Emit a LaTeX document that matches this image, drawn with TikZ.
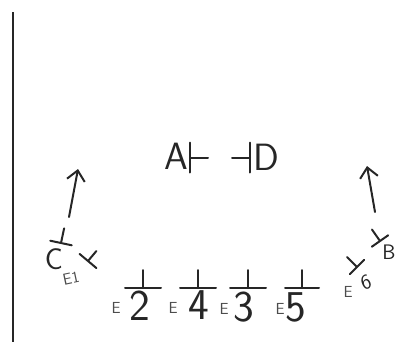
\documentclass[tikz,border=0pt]{standalone}
\usepackage{tikz}
\usetikzlibrary{arrows.meta}

\begin{document}
\begin{tikzpicture}[
    x=1pt, y=-1pt,
    font=\sffamily,
    ink/.style={draw=black!85, line width=2pt, line cap=round, line join=round},
    pics/tee/.style args={#1/#2}{code={
        \draw[ink] (-#1,0) -- (#1,0) (0,0) -- (0,-#2);
    }},
    bigLabel/.style={inner sep=0pt, text=black!85, font=\sffamily\fontsize{38}{38}\selectfont},
    digitLabel/.style={inner sep=0pt, text=black!85, font=\sffamily\fontsize{44}{44}\selectfont},
    midLabel/.style={inner sep=0pt, text=black!85, font=\sffamily\fontsize{30}{30}\selectfont},
    smallLabel/.style={inner sep=0pt, text=black!85, font=\sffamily\fontsize{21}{21}\selectfont},
    tinyLabel/.style={inner sep=0pt, text=black!70, font=\sffamily\fontsize{16}{16}\selectfont},
    upArrow/.style={ink, -{Straight Barb[length=10pt, width=18pt, line width=2pt]}}
]
\useasboundingbox (0,0) rectangle (415,349);

% margin line
\draw[line width=1.5pt, draw=black!85] (13,12) -- (13,342);

% top pair
\node[bigLabel] (lblA) at (176,156) {A};
\pic[rotate=-90] at (190,157.5) {tee=15/18};
\pic[rotate=90] at (250,157.5) {tee=15/18};
\node[bigLabel] (lblD) at (266,157) {D};

% left group
\coordinate (leftTail) at (69,217);
\coordinate (leftHead) at (78,169);
\draw[upArrow] (leftTail) -- (leftHead);
\pic[rotate=-12] at (61,243) {tee=11/15};
\node[midLabel] (lblC) at (54,259) {C};
\pic[rotate=-40] at (88,261) {tee=11/13};
\node[tinyLabel, rotate=12] (lblE1) at (71,278) {E1};

% right group
\coordinate (rightTail) at (375,212);
\coordinate (rightHead) at (367,166);
\draw[upArrow] (rightTail) -- (rightHead);
\pic[rotate=35] at (380,241) {tee=10/14};
\node[smallLabel] (lblB) at (389,252) {B};
\pic[rotate=45] at (357,267) {tee=10/14};
\node[smallLabel, rotate=20] (lbl6) at (366,282) {6};
\node[tinyLabel] (lblE6) at (348,292) {E};

% bottom row
\pic at (143,288) {tee=18/18};
\node[tinyLabel] (lblE2e) at (116,308) {E};
\node[digitLabel] (lblE2) at (140,306) {2};
\pic at (198,288) {tee=18/18};
\node[tinyLabel] (lblE4e) at (173,308) {E};
\node[digitLabel] (lblE4) at (199,305) {4};
\pic at (248,288) {tee=18/18};
\node[tinyLabel] (lblE3e) at (224,309) {E};
\node[digitLabel] (lblE3) at (244,307) {3};
\pic at (302,288) {tee=17/18};
\node[tinyLabel] (lblE5e) at (280,309) {E};
\node[digitLabel] (lblE5) at (296,307) {5};

\end{tikzpicture}
\end{document}
